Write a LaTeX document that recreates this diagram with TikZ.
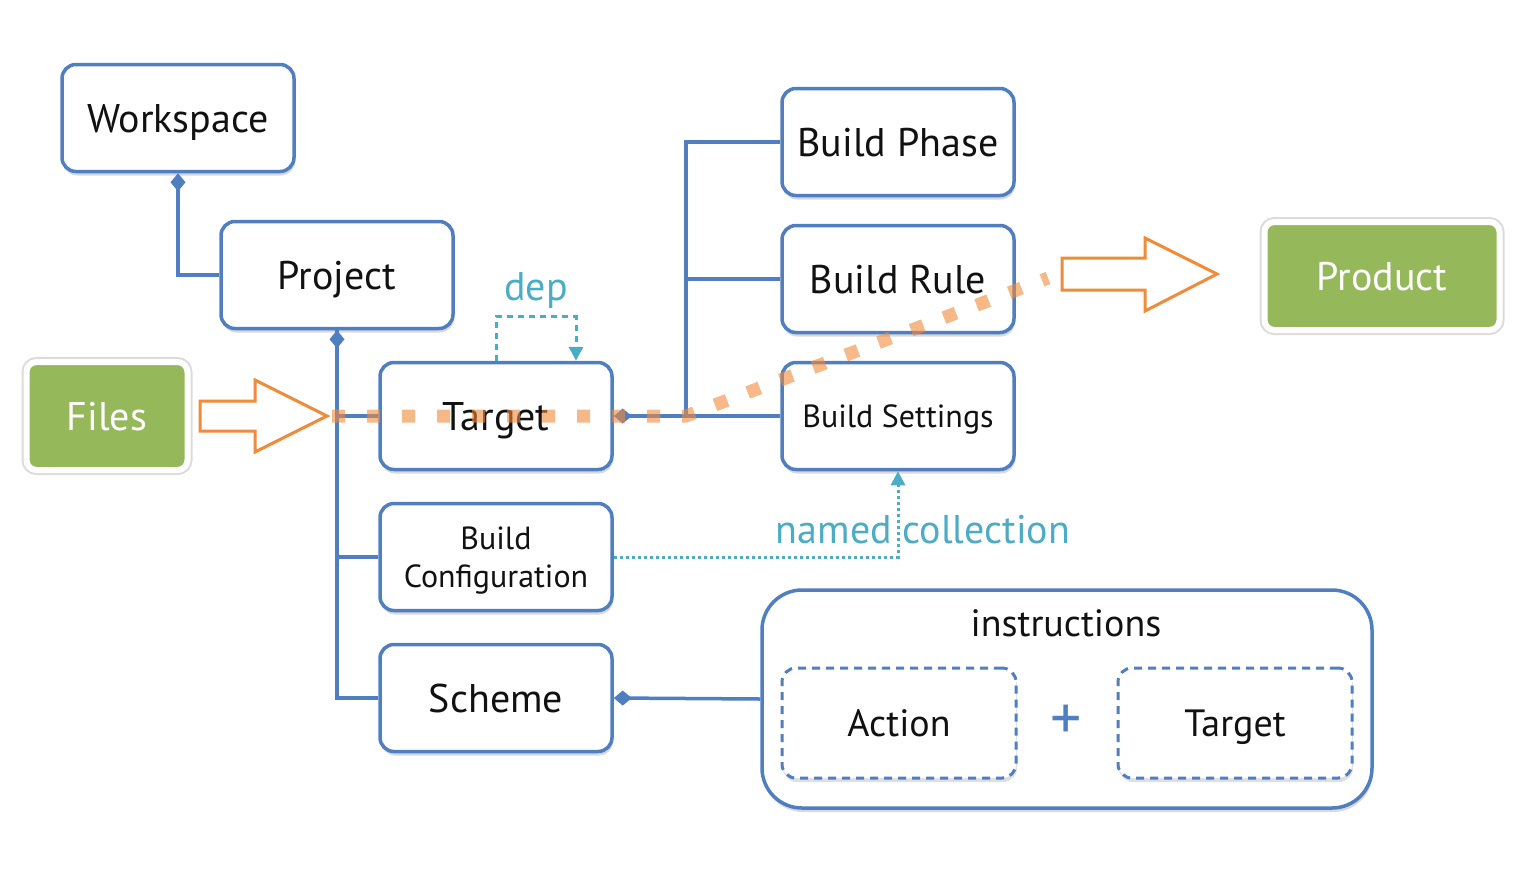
\documentclass[tikz,border=0pt]{standalone}
\usepackage{fontspec}
\setmainfont{PT Sans}
\usetikzlibrary{positioning,arrows.meta,shadows}

\definecolor{boxblue}{HTML}{4F7FC0}
\definecolor{depteal}{HTML}{4BACC6}
\definecolor{flowor}{HTML}{F28A3A}
\definecolor{leafgreen}{HTML}{95B85A}
\definecolor{ink}{HTML}{111111}

\begin{document}
\begin{tikzpicture}[
    x=1pt, y=-1pt,
    box/.style={draw=boxblue, line width=3.5pt, rounded corners=14pt, fill=white,
      minimum width=232pt, minimum height=107pt, align=center, text=ink,
      font=\fontsize{40}{46}\selectfont, text height=28pt, text depth=0pt,
      drop shadow={opacity=0.3, shadow xshift=1pt, shadow yshift=-4pt}},
    smallbox/.style={box, font=\fontsize{32}{38}\selectfont, text height=22pt},
    twoline/.style={box, font=\fontsize{32}{38}\selectfont, text height=, text depth=0pt},
    leaf/.style={draw=white, line width=6pt, fill=leafgreen, rounded corners=10pt,
      text=white, minimum height=108pt, font=\fontsize{40}{46}\selectfont,
      text height=28pt, text depth=0pt,
      preaction={draw=black!14, line width=10pt}},
    group/.style={draw=boxblue, line width=3.5pt, rounded corners=40pt, fill=white,
      minimum width=610pt, minimum height=218pt,
      drop shadow={opacity=0.3, shadow xshift=1pt, shadow yshift=-4pt}},
    part/.style={draw=boxblue, line width=3pt, dash pattern=on 8pt off 6pt,
      rounded corners=14pt, fill=white, minimum width=234pt, minimum height=110pt,
      text=ink, font=\fontsize{38}{44}\selectfont, text height=27pt, text depth=0pt,
      drop shadow={opacity=0.25, shadow xshift=1pt, shadow yshift=-4pt}},
    plain/.style={text=ink, font=\fontsize{38}{44}\selectfont},
    link/.style={draw=boxblue, line width=3.5pt},
    owns/.style={link, {Diamond[length=18pt,width=15pt]}-},
    hint/.style={draw=depteal, line width=3pt, -{Triangle[length=14pt,width=14pt]}},
    hintlabel/.style={text=depteal, font=\fontsize{40}{46}\selectfont},
    flow/.style={draw=flowor, line width=3pt, fill=white, line join=miter},
    trail/.style={draw=flowor, opacity=0.6, line width=13pt, dash pattern=on 13pt off 22pt},
  ]
  \useasboundingbox (0,0) rectangle (1518,868);

  % left column
  \node[box] (ws) at (178,118) {Workspace};
  \node[box] (proj) at (337,275) {Project};
  \node[leaf, minimum width=161pt] (files) at (107,416) {Files};

  % project members
  \node[box] (tgt) at (496,416) {Target};
  \node[twoline] (conf) at (496,557) {Build\\Configuration};
  \node[box] (scheme) at (496,698) {Scheme};

  % target members
  \node[box] (phase) at (898,142) {Build Phase};
  \node[box] (rule) at (898,279) {Build Rule};
  \node[smallbox] (bset) at (898,416) {Build Settings};
  \node[leaf, minimum width=235pt] (prod) at (1382,276) {Product};

  % scheme instructions
  \node[group] (instr) at (1067,699) {};
  \node[plain] (instrlbl) at (1066,623) {instructions};
  \node[part] (act) at (899,723) {Action};
  \node[part] (acttgt) at (1235,723) {Target};
  \node[text=boxblue, font=\fontsize{62}{66}\selectfont] (plus) at (1066,722) {+};

  % ownership
  \draw[owns] (ws.south) |- (proj.west);
  \draw[owns] (proj.south) |- (scheme.west);
  \draw[link] (proj.south) |- (tgt.west);
  \draw[link] (proj.south) |- (conf.west);
  \coordinate (bus) at (686,416);
  \draw[owns] (tgt.east) -- (bset.west);
  \draw[link] (bus) |- (phase.west);
  \draw[link] (bus) |- (rule.west);
  \draw[owns] (scheme.east) -- (instr.west);

  % dep and named collection
  \draw[hint, dash pattern=on 6pt off 5pt] (tgt.north) -- ++(0,-44) -| ([xshift=80pt]tgt.north);
  \node[hintlabel] (deplbl) at (536,290) {dep};
  \draw[hint, dash pattern=on 3pt off 3pt] (conf.east) -| (bset.south);
  \node[hintlabel] (namedlbl) at (923,530) {named collection};

  % input and output arrows
  \coordinate (inTip) at (327,416);
  \draw[flow] (200,401) -- (255,401) -- (255,380) -- (inTip) -- (255,452) -- (255,431) -- (200,431) -- cycle;
  \coordinate (outTail) at (1062,274);
  \draw[flow] (1062,258) -- (1145,258) -- (1145,238) -- (1217,274) -- (1145,311) -- (1145,290) -- (1062,290) -- cycle;

  % build flow
  \coordinate (trailEnd) at (1048,278);
  \draw[trail] ([xshift=5pt]inTip) -- (bus) -- (trailEnd);
\end{tikzpicture}
\end{document}
